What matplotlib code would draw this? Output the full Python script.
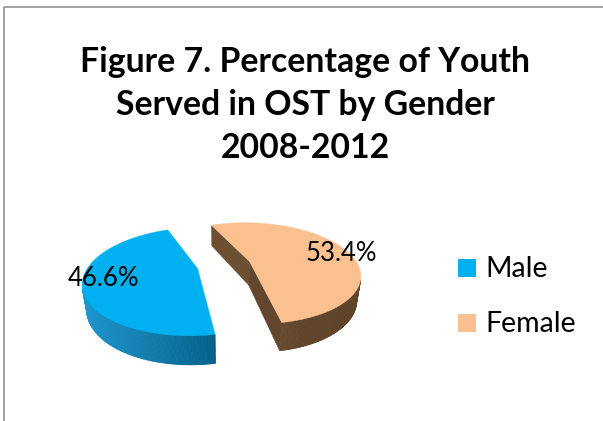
import numpy as np
import matplotlib
matplotlib.use("Agg")
import matplotlib.pyplot as plt
from matplotlib.patches import Polygon, Rectangle

# ---------------- data ----------------
title_lines = ["Figure 7. Percentage of Youth", "Served in OST by Gender", "2008-2012"]
categories = ["Male", "Female"]
values = [46.6, 53.4]
top_colors = ["#00B0F0", "#FAC090"]
side_light = [(30, 150, 205), (150, 110, 75)]
side_dark = [(0, 85, 125), (95, 68, 42)]

# ---------------- figure ----------------
W, H = 603, 421
fig = plt.figure(figsize=(W / 100, H / 100), dpi=100)
ax = fig.add_axes([0, 0, 1, 1])
ax.set_xlim(0, W)
ax.set_ylim(H, 0)
ax.axis("off")

# chart border (left and top visible)
ax.plot([3.5, 3.5], [H, 6.5], color="#878787", lw=1.1, solid_capstyle="butt")
ax.plot([3.5, W], [6.5, 6.5], color="#878787", lw=1.1, solid_capstyle="butt")

# title
title_font = dict(family=["Lato", "DejaVu Sans"], weight="bold", size=24.3)
for line, yb in zip(title_lines, [72, 115, 158]):
    ax.text(305, yb, line, ha="center", va="baseline", color="black", **title_font)

# ---------------- 3D pie geometry ----------------
CX, CY = 224.0, 265.0      # screen position of pie centre
el = np.radians(27.1)      # camera elevation
D = 3.78                   # camera distance (radius units)
F = 410.0                  # focal scale
HT = 0.257                 # pie thickness
EXPL = 0.25                # explosion
START = 112.5              # start angle (deg)
c, s = np.cos(el), np.sin(el)
CAM = np.array([0.0, -D * c, D * s])


def project(x, y, z):
    depth = y * c - z * s + D
    px = CX + F * x / depth
    py = CY - F * (y * s + z * c) / depth
    return px, py


def col(rgb):
    return tuple(v / 255 for v in rgb)


def side_color(i, k):
    lo, hi = np.array(side_dark[i]), np.array(side_light[i])
    return col(lo + k * (hi - lo))


fracs = np.array(values) / np.sum(values)
bounds = START + 360 * np.concatenate([[0], np.cumsum(fracs)])
label_r = [0.825, 0.92]
label_dang = [-3.0, -6.0]

for i, cat in enumerate(categories):
    a1, a2 = bounds[i], bounds[i + 1]
    mid = np.radians((a1 + a2) / 2)
    ox, oy = EXPL * np.cos(mid), EXPL * np.sin(mid)
    arc = np.radians(np.linspace(a1, a2, 240))

    # radial faces
    faces = []
    for ang, sign in [(np.radians(a1), -1), (np.radians(a2), 1)]:
        n = np.array([np.cos(ang + sign * np.pi / 2), np.sin(ang + sign * np.pi / 2), 0])
        P = np.array([ox + 0.5 * np.cos(ang), oy + 0.5 * np.sin(ang), -HT / 2])
        if np.dot(n, CAM - P) > 0:
            pts = [project(ox, oy, 0), project(ox + np.cos(ang), oy + np.sin(ang), 0),
                   project(ox + np.cos(ang), oy + np.sin(ang), -HT), project(ox, oy, -HT)]
            depth = P[1] * c - P[2] * s + D
            faces.append((depth, pts, ang))
    faces.sort(key=lambda t: -t[0])
    for depth, pts, ang in faces:
        k = 0.25 if np.sin(ang) > 0 else 0.08
        fc = side_color(i, k)
        ax.add_patch(Polygon(pts, closed=True, facecolor=fc, edgecolor=fc, lw=0.3, zorder=1))

    # outer wall
    for j in range(len(arc) - 1):
        ta, tb = arc[j], arc[j + 1]
        tm = (ta + tb) / 2
        n = np.array([np.cos(tm), np.sin(tm), 0])
        P = np.array([ox + np.cos(tm), oy + np.sin(tm), -HT / 2])
        if np.dot(n, CAM - P) <= 0:
            continue
        k = np.clip(np.cos(tm - np.radians(200)), 0, 1)
        fc = side_color(i, k)
        pts = [project(ox + np.cos(ta), oy + np.sin(ta), 0),
               project(ox + np.cos(tb), oy + np.sin(tb), 0),
               project(ox + np.cos(tb), oy + np.sin(tb), -HT),
               project(ox + np.cos(ta), oy + np.sin(ta), -HT)]
        ax.add_patch(Polygon(pts, closed=True, facecolor=fc, edgecolor=fc, lw=0.6, zorder=2))

    # top face
    pts = [project(ox, oy, 0)] + [project(ox + np.cos(t), oy + np.sin(t), 0) for t in arc]
    ax.add_patch(Polygon(pts, closed=True, facecolor=top_colors[i], edgecolor=top_colors[i],
                         lw=0.3, zorder=3))

    # data label
    la = mid + np.radians(label_dang[i])
    lx, ly = project(ox + label_r[i] * np.cos(la), oy + label_r[i] * np.sin(la), 0)
    ax.text(lx, ly, f"{values[i]:.1f}%", ha="center", va="center", color="black",
            family=["Lato", "DejaVu Sans"], size=18.5, zorder=5)

# ---------------- legend ----------------
for i, cat in enumerate(categories):
    yb = 277 + 54.5 * i
    ax.add_patch(Rectangle((458, yb - 18), 18, 18, facecolor=top_colors[i], edgecolor="none", zorder=4))
    ax.text(485, yb, cat, ha="left", va="baseline", color="black",
            family=["Lato", "DejaVu Sans"], size=20.5)

fig.savefig("out.png", dpi=100, facecolor="white")
